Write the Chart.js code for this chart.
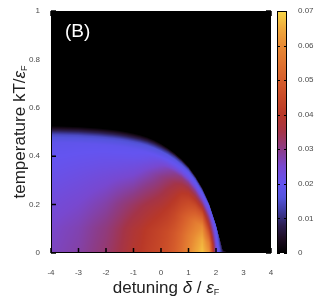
<!DOCTYPE html>
<html>
<head>
<meta charset="utf-8">
<script src="https://cdn.jsdelivr.net/npm/chart.js@4.4.0/dist/chart.umd.min.js"></script>
<style>
  html, body { margin: 0; padding: 0; background: #fff; }
</style>
</head>
<body>
<canvas id="heatChart" width="327" height="305"></canvas>
<script>
// columns of the map (detuning) and the temperature where the colour ends in each column
const detuning = [-4, -3.75, -3.5, -3.25, -3, -2.75, -2.5, -2.25, -2, -1.75, -1.5, -1.25, -1,
    -0.75, -0.5, -0.25, 0, 0.25, 0.5, 0.75, 1, 1.25, 1.5, 1.75, 2, 2.25, 2.5];
const edgeTemp = [0.525, 0.525, 0.524, 0.523, 0.522, 0.52, 0.518, 0.516, 0.513, 0.51, 0.506, 0.501, 0.495,
    0.488, 0.479, 0.467, 0.452, 0.434, 0.413, 0.388, 0.358, 0.318, 0.27, 0.207, 0.12, 0.012, 0];
// rows: value read at temperature = fraction * edgeTemp
const edgeFraction = [0, 0.2, 0.4, 0.6, 0.7, 0.8, 0.87, 0.93, 0.97, 1];

const s000 = [0.026, 0.0265, 0.027, 0.0275, 0.028, 0.029, 0.030, 0.031, 0.032, 0.0335, 0.035, 0.037, 0.039, 0.040, 0.042, 0.0435, 0.045, 0.047, 0.050, 0.054, 0.059, 0.064, 0.068, 0.062, 0.026, 0.008, 0];
const s020 = [0.0252, 0.0257, 0.0262, 0.0266, 0.0271, 0.028, 0.029, 0.0299, 0.0308, 0.0322, 0.0338, 0.0357, 0.0375, 0.0388, 0.0406, 0.0421, 0.0437, 0.0456, 0.0484, 0.0521, 0.0568, 0.0612, 0.0655, 0.057, 0.025, 0.008, 0];
const s040 = [0.0234, 0.0238, 0.0242, 0.0246, 0.025, 0.0256, 0.0263, 0.027, 0.0278, 0.029, 0.0303, 0.0316, 0.033, 0.0345, 0.036, 0.0375, 0.039, 0.041, 0.044, 0.048, 0.052, 0.0565, 0.060, 0.047, 0.023, 0.007, 0];
const s060 = [0.0212, 0.0215, 0.0218, 0.0221, 0.0224, 0.0228, 0.0232, 0.0236, 0.024, 0.0246, 0.0252, 0.0258, 0.0265, 0.028, 0.0295, 0.031, 0.033, 0.0355, 0.038, 0.0415, 0.044, 0.046, 0.047, 0.036, 0.021, 0.006, 0];
const s070 = [0.0203, 0.0205, 0.0207, 0.0209, 0.0211, 0.0213, 0.0215, 0.0218, 0.022, 0.0222, 0.0225, 0.023, 0.0235, 0.0245, 0.026, 0.0278, 0.0298, 0.032, 0.0345, 0.037, 0.039, 0.039, 0.038, 0.030, 0.020, 0.005, 0];
const s080 = [0.0196, 0.0197, 0.0197, 0.0198, 0.0199, 0.020, 0.0201, 0.0202, 0.0203, 0.0203, 0.0204, 0.0205, 0.0206, 0.021, 0.0218, 0.0232, 0.025, 0.027, 0.029, 0.031, 0.031, 0.030, 0.027, 0.024, 0.019, 0.004, 0];
const s087 = [0.0188, 0.0188, 0.0189, 0.0189, 0.019, 0.019, 0.0191, 0.0191, 0.0192, 0.0192, 0.0192, 0.0193, 0.0193, 0.0195, 0.0197, 0.020, 0.0205, 0.021, 0.0215, 0.022, 0.022, 0.022, 0.021, 0.021, 0.018, 0.003, 0];
const s093 = [0.0145, 0.0145, 0.0145, 0.0146, 0.0146, 0.0146, 0.0147, 0.0147, 0.0147, 0.0147, 0.0148, 0.0148, 0.0148, 0.015, 0.0153, 0.0156, 0.016, 0.017, 0.0175, 0.018, 0.0185, 0.0185, 0.018, 0.019, 0.016, 0.002, 0];
const s097 = [0.0065, 0.0065, 0.0065, 0.0065, 0.0066, 0.0066, 0.0066, 0.0066, 0.0066, 0.0066, 0.0066, 0.0066, 0.0066, 0.0068, 0.007, 0.0075, 0.008, 0.009, 0.010, 0.011, 0.012, 0.012, 0.011, 0.012, 0.010, 0.001, 0];
const s100 = [0, 0, 0, 0, 0, 0, 0, 0, 0, 0, 0, 0, 0, 0, 0, 0, 0, 0, 0, 0, 0, 0, 0, 0, 0, 0, 0];
const gapRows = [s000, s020, s040, s060, s070, s080, s087, s093, s097, s100];

const colorTicks = [0, 0.01, 0.02, 0.03, 0.04, 0.05, 0.06, 0.07];

// palette of the colour box
const paletteStops = [0, 0.004, 0.008, 0.012, 0.016, 0.02, 0.025, 0.03, 0.035, 0.04, 0.045, 0.05, 0.055, 0.06, 0.065, 0.07];
const paletteColors = ["#000000", "#1c0c20", "#2c1e50", "#3e3a9c", "#5454dc", "#6454f0", "#7848d0", "#8c3c88",
    "#a43448", "#b83828", "#c84a28", "#d65e2c", "#e07430", "#e88a34", "#f0aa3c", "#f8d848"];

function hexRgb(h) {
    return [parseInt(h.slice(1, 3), 16), parseInt(h.slice(3, 5), 16), parseInt(h.slice(5, 7), 16)];
}
const paletteRgb = paletteColors.map(hexRgb);

function gapColor(v) {
    if (v <= paletteStops[0]) return paletteRgb[0];
    for (let i = 1; i < paletteStops.length; i++) {
        if (v <= paletteStops[i]) {
            const f = (v - paletteStops[i - 1]) / (paletteStops[i] - paletteStops[i - 1]);
            const a = paletteRgb[i - 1], b = paletteRgb[i];
            return [0, 1, 2].map((k) => Math.round(a[k] + (b[k] - a[k]) * f));
        }
    }
    return paletteRgb[paletteRgb.length - 1];
}

// value shown at (detuning d, temperature t), blended between the read grid points
function gapAt(d, t) {
    const n = detuning.length;
    if (d > detuning[n - 1]) return 0;
    let i = 0;
    while (i < n - 2 && d > detuning[i + 1]) i++;
    const f = Math.min(1, Math.max(0, (d - detuning[i]) / (detuning[i + 1] - detuning[i])));
    const tc = edgeTemp[i] + (edgeTemp[i + 1] - edgeTemp[i]) * f;
    if (tc <= 0) return 0;
    const s = Math.max(0, t) / tc;
    if (s >= 1) return 0;
    let k = 0;
    while (k < edgeFraction.length - 2 && s > edgeFraction[k + 1]) k++;
    const g = (s - edgeFraction[k]) / (edgeFraction[k + 1] - edgeFraction[k]);
    const lo = gapRows[k][i] + (gapRows[k][i + 1] - gapRows[k][i]) * f;
    const hi = gapRows[k + 1][i] + (gapRows[k + 1][i + 1] - gapRows[k + 1][i]) * f;
    return lo + (hi - lo) * g;
}

const sansFont = '"Liberation Sans", Arial, sans-serif';

function drawRich(ctx, parts, cx, cy) {
    let total = 0;
    parts.forEach((p) => {
        ctx.font = p.font;
        p.w = ctx.measureText(p.text).width;
        total += p.w;
    });
    let px = cx - total / 2;
    parts.forEach((p) => {
        ctx.font = p.font;
        ctx.fillText(p.text, px, cy + (p.dy || 0));
        px += p.w;
    });
}

const heatmapPlugin = {
    id: "heatmap",
    beforeDatasetsDraw(chart) {
        const { ctx, chartArea, scales } = chart;
        const x = scales.x, y = scales.y, c = scales.c;
        const w = Math.round(chartArea.width), h = Math.round(chartArea.height);
        const off = document.createElement("canvas");
        off.width = w;
        off.height = h;
        const octx = off.getContext("2d");
        const img = octx.createImageData(w, h);
        for (let px = 0; px < w; px++) {
            const d = x.getValueForPixel(chartArea.left + px + 0.5);
            for (let py = 0; py < h; py++) {
                const t = y.getValueForPixel(chartArea.top + py + 0.5);
                const rgb = gapColor(gapAt(d, t));
                const k = (py * w + px) * 4;
                img.data[k] = rgb[0];
                img.data[k + 1] = rgb[1];
                img.data[k + 2] = rgb[2];
                img.data[k + 3] = 255;
            }
        }
        octx.putImageData(img, 0, 0);
        ctx.drawImage(off, chartArea.left, chartArea.top);

        // colour box
        const cbLeft = c.left + 6, cbRight = c.left + 16;
        const cbTop = c.getPixelForValue(0.07), cbBottom = c.getPixelForValue(0);
        for (let py = Math.floor(cbTop); py < cbBottom; py++) {
            const rgb = gapColor(c.getValueForPixel(py + 0.5));
            ctx.fillStyle = "rgb(" + rgb.join(",") + ")";
            ctx.fillRect(cbLeft, py, cbRight - cbLeft, 1);
        }
        ctx.strokeStyle = "#000";
        ctx.lineWidth = 1;
        ctx.strokeRect(cbLeft + 0.5, cbTop + 0.5, cbRight - cbLeft - 1, cbBottom - cbTop - 1);
        ctx.beginPath();
        colorTicks.forEach((t) => {
            const py = Math.round(c.getPixelForValue(t)) + 0.5;
            ctx.moveTo(cbLeft, py);
            ctx.lineTo(cbLeft + 3, py);
            ctx.moveTo(cbRight - 3, py);
            ctx.lineTo(cbRight, py);
        });
        ctx.stroke();
    },
    afterDatasetsDraw(chart) {
        const { ctx, chartArea, scales } = chart;
        const x = scales.x, y = scales.y;
        ctx.save();
        ctx.strokeStyle = "#000";
        ctx.lineWidth = 1.5;
        ctx.beginPath();
        x.ticks.forEach((t) => {
            const px = x.getPixelForValue(t.value);
            ctx.moveTo(px, chartArea.bottom);
            ctx.lineTo(px, chartArea.bottom - 5);
            ctx.moveTo(px, chartArea.top);
            ctx.lineTo(px, chartArea.top + 5);
        });
        y.ticks.forEach((t) => {
            const py = y.getPixelForValue(t.value);
            ctx.moveTo(chartArea.left, py);
            ctx.lineTo(chartArea.left + 5, py);
            ctx.moveTo(chartArea.right, py);
            ctx.lineTo(chartArea.right - 5, py);
        });
        ctx.stroke();
        ctx.lineWidth = 1;
        ctx.strokeRect(chartArea.left + 0.5, chartArea.top + 0.5, chartArea.width - 1, chartArea.height - 1);

        // panel label
        ctx.fillStyle = "#fff";
        ctx.font = "19px " + sansFont;
        ctx.textBaseline = "alphabetic";
        ctx.fillText("(B)", chartArea.left + 14, chartArea.top + 26);

        // axis titles with subscripts
        ctx.fillStyle = "#222";
        const reg = "17px " + sansFont, ita = "italic 17px " + sansFont, sub = "9px " + sansFont;
        drawRich(ctx, [
            { text: "detuning ", font: reg },
            { text: "\u03b4", font: ita },
            { text: " / ", font: reg },
            { text: "\u03b5", font: ita },
            { text: "F", font: sub, dy: 2 },
        ], (chartArea.left + chartArea.right) / 2 + 5, chartArea.bottom + 40);

        ctx.translate(25, (chartArea.top + chartArea.bottom) / 2);
        ctx.rotate(-Math.PI / 2);
        drawRich(ctx, [
            { text: "temperature kT/", font: reg },
            { text: "\u03b5", font: ita },
            { text: "F", font: sub, dy: 2 },
        ], 0, 0);
        ctx.restore();
    },
};

const tickFont = { family: sansFont, size: 8 };
const hiddenGrid = { display: true, drawOnChartArea: false, drawTicks: true, color: "rgba(0,0,0,0)" };

const heatConfig = {
    type: "scatter",
    data: { datasets: [] },
    options: {
        responsive: false,
        animation: false,
        devicePixelRatio: 1,
        layout: { padding: { top: 11, left: 0, right: 0, bottom: 0 } },
        plugins: { legend: { display: false }, tooltip: { enabled: false } },
        scales: {
            x: {
                type: "linear",
                min: -4,
                max: 4,
                grid: { ...hiddenGrid, tickLength: 14 },
                border: { display: false },
                ticks: { stepSize: 1, padding: 1, color: "#4a4a4a", font: tickFont },
                afterFit: (s) => { s.height = 52; },
            },
            y: {
                type: "linear",
                min: 0,
                max: 1,
                grid: { ...hiddenGrid, tickLength: 10 },
                border: { display: false },
                ticks: {
                    stepSize: 0.2,
                    padding: 1,
                    color: "#4a4a4a",
                    font: tickFont,
                    callback: (v) => String(+v.toFixed(1)),
                },
                afterFit: (s) => { s.width = 51; },
            },
            c: {
                type: "linear",
                position: "right",
                min: 0,
                max: 0.07,
                grid: { ...hiddenGrid, tickLength: 26 },
                border: { display: false },
                ticks: {
                    stepSize: 0.01,
                    padding: 1,
                    color: "#4a4a4a",
                    font: tickFont,
                    callback: (v) => (v === 0 ? "0" : v.toFixed(2)),
                },
                afterFit: (s) => { s.width = 56; },
            },
        },
    },
    plugins: [heatmapPlugin],
};

const heatChart = new Chart(document.getElementById("heatChart"), heatConfig);
</script>
</body>
</html>
